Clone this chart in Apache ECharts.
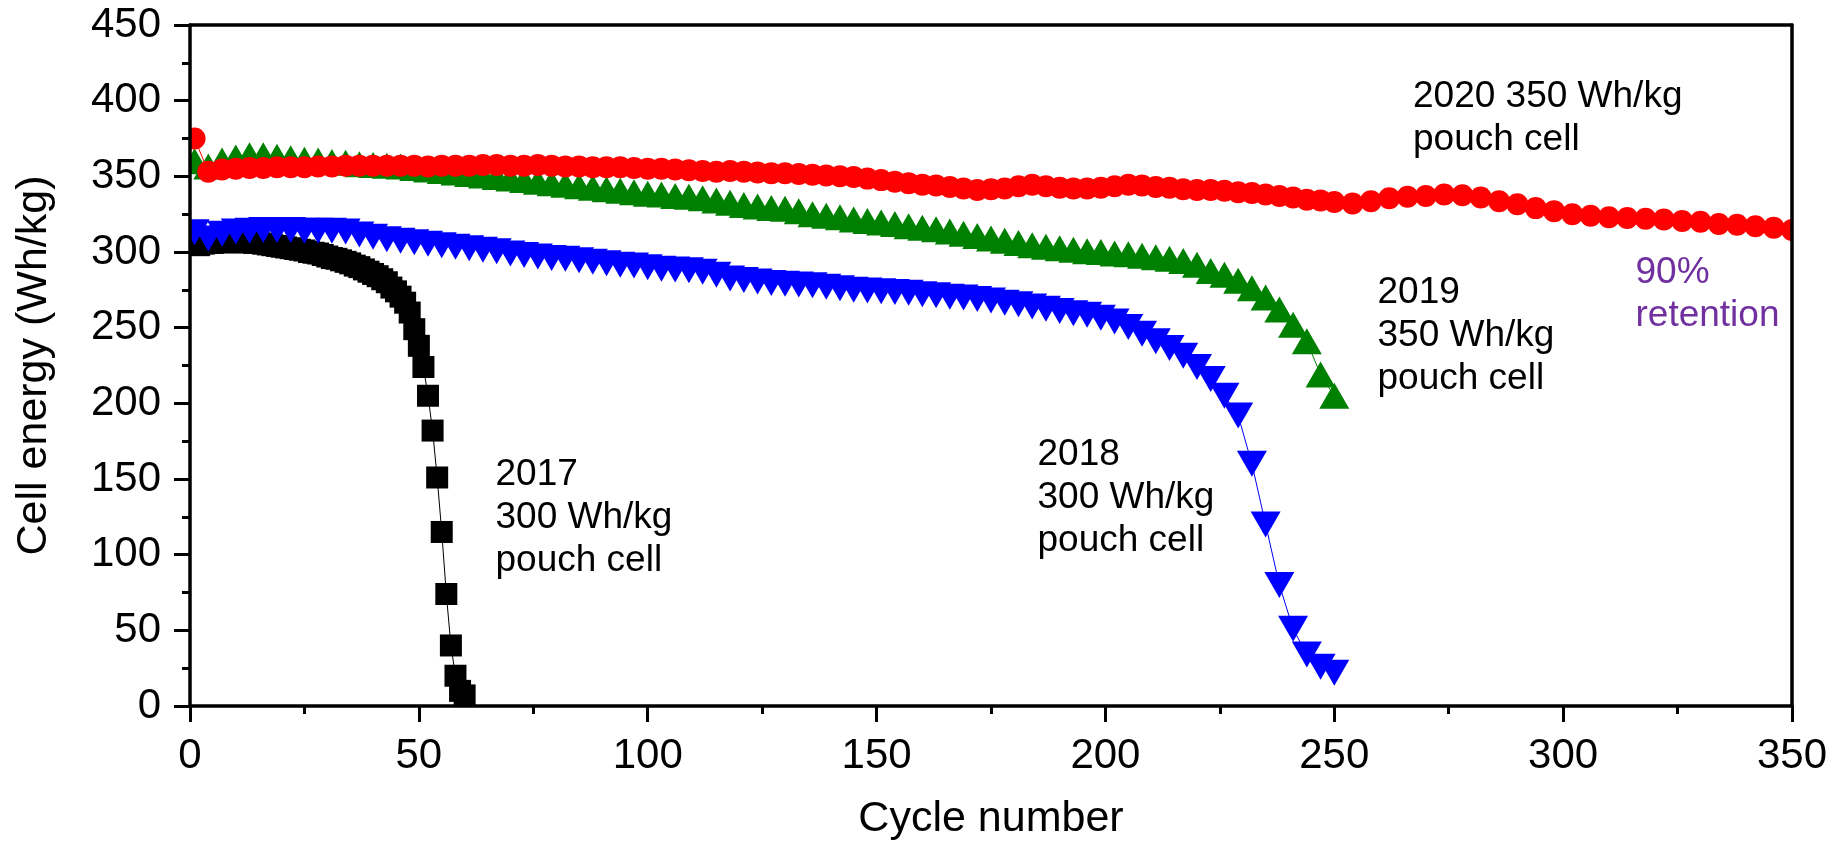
<!DOCTYPE html>
<html>
<head>
<meta charset="utf-8">
<script src="https://cdn.jsdelivr.net/npm/echarts@6/dist/echarts.min.js"></script>
<style>
html,body{margin:0;padding:0;background:#fff;}
#chart{width:1836px;height:846px;}
</style>
</head>
<body>
<div id="chart"></div>
<script>
// ---------- DATA ----------
const cycles2017 = [1,2,3,4,5,6,7,8,9,10,11,12,13,14,15,16,17,18,19,20,21,22,23,24,25,26,27,28,29,30,
  31,32,33,34,35,36,37,38,39,40,41,42,43,44,45,46,47,48,49,50,51,52,53,54,55,56,57,58,59,60];
const energy2017 = [305,304.5,305.5,306,306,306.5,306.5,306.5,306.5,306.5,306.5,306.5,306.5,306,306,305.5,305,304.5,304,303.5,
  303,302.5,302,301.5,301,300,299.5,299,298,297,296,295.5,294.5,293.5,292.5,291,290,288.5,287,285.5,
  284,282,280,276.5,274,270.5,266.5,260,249,238,224,205,182,151,115,74,40,20,10,7];

const cycles2018 = [1,4,7,10,13,16,19,22,25,28,31,34,37,40,43,46,49,52,55,58,61,64,67,70,73,76,79,82,85,88,
  91,94,97,100,103,106,109,112,115,118,121,124,127,130,133,136,139,142,145,148,151,154,157,160,163,166,169,172,175,178,
  181,184,187,190,193,196,199,202,205,208,211,214,217,220,223,226,229,232,235,238,241,244,247,250];
const energy2018 = [313,309,312,313.5,314,314.5,314.5,314.5,314,314,314,313.5,311.5,310,308.5,307.5,306.5,305.5,304.5,303.5,
  302.5,301.5,300.5,299,298,297,296,295.5,294.5,293.5,292.5,291.5,291,290,289,288.5,288,287,285,282.5,
  281.5,280.5,279.5,279,278.5,278,277,276,275,274.5,274,273.5,273,272,271.5,270.5,270,269,268,266.5,
  265.5,264,262.5,261,259.5,258.5,256.5,254,250.5,246,241,236.5,231.5,224,216,205,192,160,120,80,
  51,34,26,22];

const cycles2019 = [1,4,7,10,13,16,19,22,25,28,31,34,37,40,43,46,49,52,55,58,61,64,67,70,73,76,79,82,85,88,
  91,94,97,100,103,106,109,112,115,118,121,124,127,130,133,136,139,142,145,148,151,154,157,160,163,166,169,172,175,178,
  181,184,187,190,193,196,199,202,205,208,211,214,217,220,223,226,229,232,235,238,241,244,247,250];
const energy2019 = [360,356.5,360.5,362.5,364,364,363,362,361,360.5,359.5,359,358,357.5,357,356.5,355.5,354.5,353.5,352.5,
  351.5,350.5,349.5,348.5,347.5,346.5,345.5,344.5,343.5,342.5,341.5,340.5,339.5,338.5,338,337,336.5,335.5,334,332.5,
  331,330,329,328.5,327,325,324,323,321.5,320.5,319.5,318.5,317,316,315,313.5,312,310.5,309,307.5,
  306,304.5,303.5,302.5,301.5,300.5,300,299,298.5,297.5,296.5,295.5,294,291.5,287.5,285,281,276,270,262,
  252,241,219,205];

const cycles2020 = [1,4,7,10,13,16,19,22,25,28,31,34,37,40,43,46,49,52,55,58,61,64,67,70,73,76,79,82,85,88,
  91,94,97,100,103,106,109,112,115,118,121,124,127,130,133,136,139,142,145,148,151,154,157,160,163,166,169,172,175,178,
  181,184,187,190,193,196,199,202,205,208,211,214,217,220,223,226,229,232,235,238,241,244,247,250,
  254,258,262,266,270,274,278,282,286,290,294,298,302,306,310,314,318,322,326,330,334,338,342,346,350];
const energy2020 = [375,353,354.5,355,355.5,355.5,356,356,356,356.5,356.5,357,357,357,357,357,357,356.5,357,357,
  357,357.5,357.5,357,357,357.5,357,356.5,356.5,356,356,356,355.5,355,355,354.5,354,353.5,353,353.5,
  353,352.5,352,352,351.5,351,350.5,350,349.5,348.5,347.5,346.5,345.5,344.5,344,343,342,341,341.5,342,
  343.5,344.5,343.5,342.5,342,342,342.5,343.5,344.5,344,343,342.5,341.5,341,341,340.5,339.5,339,338,337,
  336,334.5,334,333,
  332,333.5,335.5,336.5,337,338,337.5,336,333.5,331.5,329,327,325,324,323,322.5,322,321.5,320.5,320,
  318.5,318,317,316,314.5];

const xTicks = [0,50,100,150,200,250,300,350];
const yTicks = [0,50,100,150,200,250,300,350,400,450];

const labels = [
  {text:'2020 350 Wh/kg\npouch cell', color:'#000000'},
  {text:'2019\n350 Wh/kg\npouch cell', color:'#000000'},
  {text:'90%\nretention', color:'#7030A0'},
  {text:'2018\n300 Wh/kg\npouch cell', color:'#000000'},
  {text:'2017\n300 Wh/kg\npouch cell', color:'#000000'}
];
// ---------- END DATA ----------

const FONT = "'Liberation Sans', Arial, Helvetica, sans-serif";
const pair = (xs, ys) => xs.map((x, i) => [x, ys[i]]);

const labelPos = [[1413,75],[1377.5,271.5],[1635.5,251.5],[1037.5,433],[495.5,453]];

const chart = echarts.init(document.getElementById('chart'), null, {renderer:'canvas'});

const axisLineStyle = {color:'#000', width:3.5};
const option = {
  animation: false,
  backgroundColor: '#fff',
  grid: {left:190, right:44, top:25, bottom:137, containLabel:false},
  xAxis: [{
    type:'value', min:xTicks[0], max:xTicks[xTicks.length-1], interval:50, position:'bottom', z:10,
    axisLine:{show:true, onZero:false, lineStyle:axisLineStyle},
    axisTick:{show:true, inside:false, length:16, lineStyle:{color:'#000', width:3}},
    minorTick:{show:true, splitNumber:2, length:8, lineStyle:{color:'#000', width:3}},
    splitLine:{show:false},
    axisLabel:{fontSize:42, color:'#000', margin:29, fontFamily:FONT},
    name:'Cycle number', nameLocation:'middle', nameGap:92,
    nameTextStyle:{fontSize:43, color:'#000', fontFamily:FONT}
  },{
    type:'value', min:0, max:350, position:'top', z:10,
    axisLine:{show:true, onZero:false, lineStyle:axisLineStyle},
    axisTick:{show:false}, axisLabel:{show:false}, splitLine:{show:false}
  }],
  yAxis: [{
    type:'value', min:yTicks[0], max:yTicks[yTicks.length-1], interval:50, position:'left', z:10,
    axisLine:{show:true, onZero:false, lineStyle:axisLineStyle},
    axisTick:{show:true, inside:false, length:16, lineStyle:{color:'#000', width:3}},
    minorTick:{show:true, splitNumber:2, length:8, lineStyle:{color:'#000', width:3}},
    splitLine:{show:false},
    axisLabel:{fontSize:42, color:'#000', margin:29, fontFamily:FONT},
    name:'Cell energy (Wh/kg)', nameLocation:'middle', nameGap:134,
    nameTextStyle:{fontSize:43, color:'#000', fontFamily:FONT}
  },{
    type:'value', min:0, max:450, position:'right', z:10,
    axisLine:{show:true, onZero:false, lineStyle:axisLineStyle},
    axisTick:{show:false}, axisLabel:{show:false}, splitLine:{show:false}
  }],
  series: [
    {type:'line', name:'2017', data:pair(cycles2017, energy2017), symbol:'rect', symbolSize:22,
     itemStyle:{color:'#000000'}, lineStyle:{color:'#000000', width:1}, showAllSymbol:true, z:2, silent:true},
    {type:'line', name:'2018', data:pair(cycles2018, energy2018), symbol:'triangle', symbolRotate:180, symbolSize:[30,26],
     itemStyle:{color:'#0000FF'}, lineStyle:{color:'#0000FF', width:1}, showAllSymbol:true, z:3, silent:true},
    {type:'line', name:'2019', data:pair(cycles2019, energy2019), symbol:'triangle', symbolSize:[30,26],
     itemStyle:{color:'#008000'}, lineStyle:{color:'#008000', width:1}, showAllSymbol:true, z:4, silent:true},
    {type:'line', name:'2020', data:pair(cycles2020, energy2020), symbol:'circle', symbolSize:22,
     itemStyle:{color:'#FF0000'}, lineStyle:{color:'#FF0000', width:1}, showAllSymbol:true, z:5, silent:true}
  ],
  graphic: {
    elements: [
      {type:'rect', shape:{x:1793, y:0, width:43, height:700}, style:{fill:'#fff'}, z:6, silent:true},
      {type:'rect', shape:{x:165, y:100, width:24, height:180}, style:{fill:'#fff'}, z:6, silent:true}
    ].concat(labels.map((l, i) => ({
      type:'text', x:labelPos[i][0], y:labelPos[i][1], z:60, silent:true,
      style:{text:l.text, fill:l.color, fontSize:37, fontFamily:FONT, lineHeight:43, align:'left', verticalAlign:'top'}
    })))
  }
};
chart.setOption(option);
</script>
</body>
</html>
